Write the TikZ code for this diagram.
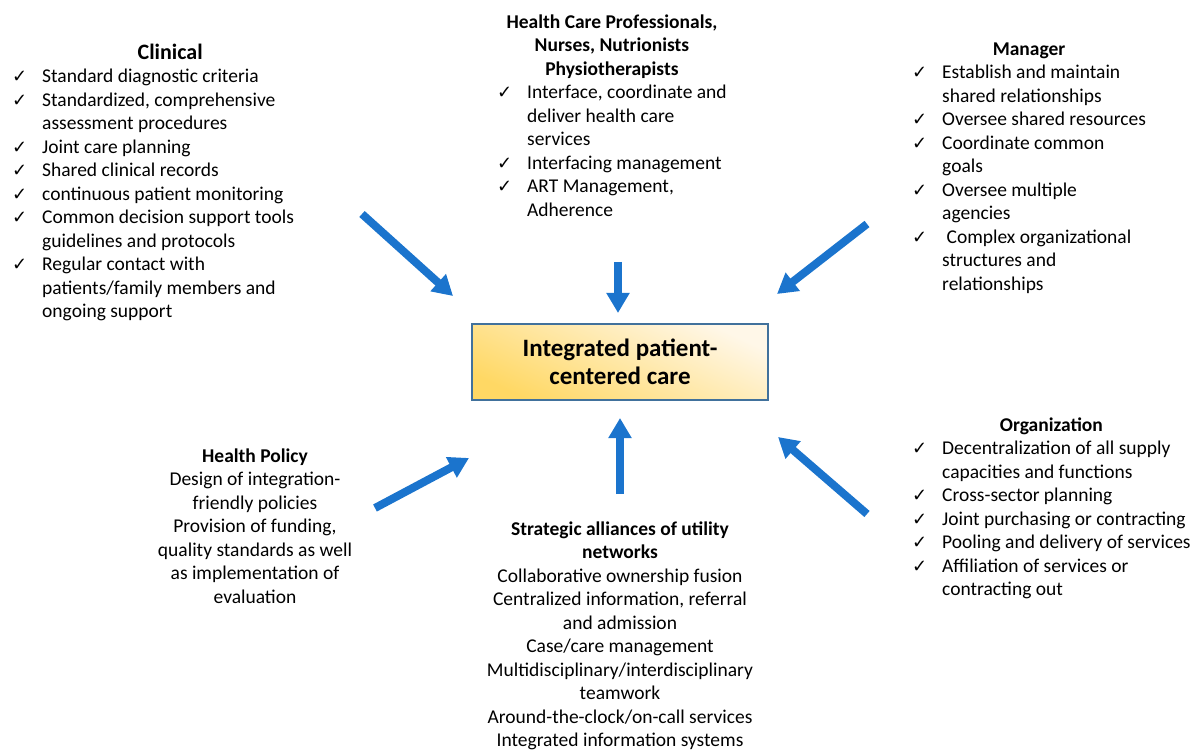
\documentclass[tikz,border=0pt]{standalone}
\usepackage{fontspec}
\setmainfont{Carlito}
\newfontfamily\checkfont{DejaVu Sans}
\usetikzlibrary{positioning, arrows.meta}

\definecolor{flowblue}{RGB}{27,116,205}
\definecolor{coreedge}{RGB}{65,113,156}
\definecolor{coredark}{RGB}{255,216,100}
\definecolor{corelight}{RGB}{255,247,232}

% check mark and blank slot for the lists
\newcommand{\chk}{\makebox[30pt][l]{\checkfont\fontsize{18}{18}\selectfont ✓}}
\newcommand{\nochk}{\hspace*{30pt}}
\newcommand{\head}[1]{\multicolumn{1}{c}{\bfseries #1}}

\begin{document}
\begin{tikzpicture}[x=1pt, y=-1pt]
    \tikzset{
        list/.style={anchor=north west, inner sep=0pt, font=\fontsize{19.5}{23.5}\selectfont},
        block/.style={anchor=north, inner sep=0pt, font=\fontsize{19.5}{23.5}\selectfont},
        core/.style={draw=coreedge, line width=1.2pt, minimum width=296pt, minimum height=76pt,
            shading=axis, bottom color=coredark, top color=corelight, shading angle=-25,
            align=center, font=\fontsize{25}{28}\selectfont\bfseries},
        flow/.style={draw=flowblue, line width=8pt, -{Triangle[width=22pt, length=20pt]}}
    }
    \useasboundingbox (0,0) rectangle (1192,751);

    % centre box
    \node [core] (care) at (620,362) {Integrated patient-\\centered care};

    % the six groups round it
    \node [list] (clinical) at (12,42.5) {\begin{tabular}{@{}l@{}}
        \head{\hspace*{34pt}\fontsize{22}{23.5}\selectfont Clinical}\\
        \chk Standard diagnostic criteria\\
        \chk Standardized, comprehensive\\
        \nochk assessment procedures\\
        \chk Joint care planning\\
        \chk Shared clinical records\\
        \chk continuous patient monitoring\\
        \chk Common decision support tools\\
        \nochk guidelines and protocols\\
        \chk Regular contact with\\
        \nochk patients/family members and\\
        \nochk ongoing support
    \end{tabular}};

    \node [list] (staff) at (497,11.5) {\begin{tabular}{@{}l@{}}
        \head{Health Care Professionals,}\\
        \head{Nurses, Nutrionists}\\
        \head{Physiotherapists}\\
        \chk Interface, coordinate and\\
        \nochk deliver health care\\
        \nochk services\\
        \chk Interfacing management\\
        \chk ART Management,\\
        \nochk Adherence
    \end{tabular}};

    \node [list] (manager) at (912,38.5) {\begin{tabular}{@{}l@{}}
        \head{Manager}\\
        \chk Establish and maintain\\
        \nochk shared relationships\\
        \chk Oversee shared resources\\
        \chk Coordinate common\\
        \nochk goals\\
        \chk Oversee multiple\\
        \nochk agencies\\
        \chk \ Complex organizational\\
        \nochk structures and\\
        \nochk relationships
    \end{tabular}};

    \node [list] (organization) at (912,414.5) {\begin{tabular}{@{}l@{}}
        \head{Organization}\\
        \chk Decentralization of all supply\\
        \nochk capacities and functions\\
        \chk Cross-sector planning\\
        \chk Joint purchasing or contracting\\
        \chk Pooling and delivery of services\\
        \chk Affiliation of services or\\
        \nochk contracting out
    \end{tabular}};

    \node [block] (policy) at (255,445.5) {\begin{tabular}{@{}c@{}}
        \bfseries Health Policy\\
        Design of integration-\\
        friendly policies\\
        Provision of funding,\\
        quality standards as well\\
        as implementation of\\
        evaluation
    \end{tabular}};

    \node [block] (alliances) at (620,518.5) {\begin{tabular}{@{}c@{}}
        \bfseries Strategic alliances of utility\\
        \bfseries networks\\
        Collaborative ownership fusion\\
        Centralized information, referral\\
        and admission\\
        Case/care management\\
        Multidisciplinary/interdisciplinary\\
        teamwork\\
        Around-the-clock/on-call services\\
        Integrated information systems
    \end{tabular}};

    % arrow ends
    \coordinate (clinical-out) at (362,214);
    \coordinate (clinical-in) at (453,296);
    \coordinate (staff-out) at (618,262);
    \coordinate (staff-in) at (618,313);
    \coordinate (manager-out) at (867,224);
    \coordinate (manager-in) at (777,294);
    \coordinate (policy-out) at (375,508);
    \coordinate (policy-in) at (469,458);
    \coordinate (alliances-out) at (620,494);
    \coordinate (alliances-in) at (620,418);
    \coordinate (organization-out) at (867,514);
    \coordinate (organization-in) at (778,437);

    % arrows into the centre
    \draw [flow] (clinical-out) -- (clinical-in);
    \draw [flow] (staff-out) -- (staff-in);
    \draw [flow] (manager-out) -- (manager-in);
    \draw [flow] (policy-out) -- (policy-in);
    \draw [flow] (alliances-out) -- (alliances-in);
    \draw [flow] (organization-out) -- (organization-in);
\end{tikzpicture}
\end{document}
